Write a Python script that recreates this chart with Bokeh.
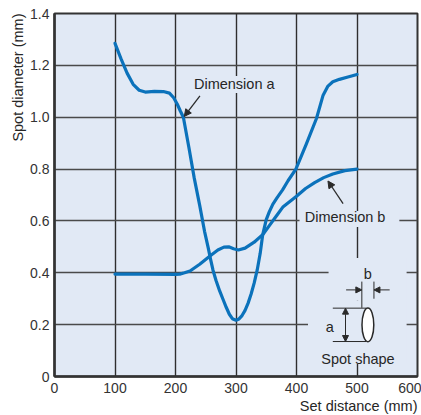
from bokeh.plotting import figure
from bokeh.models import (Range1d, FixedTicker, CustomJSTickFormatter, Label, Arrow,
                          NormalHead, Title)
from bokeh.embed import file_html
from bokeh.resources import INLINE

# ---- data ----
dist_a = [100, 110, 120, 130, 140, 150, 165, 180, 190, 197, 203, 208, 213, 222, 231,
          240, 248, 254, 258, 262, 267, 273, 279, 284, 289, 294, 300, 305, 310, 315, 320,
          325, 330, 335, 340, 344, 350, 355, 361, 368, 377, 386, 399, 416, 433, 444, 452,
          460, 471, 485, 500]
dim_a = [1.285, 1.225, 1.17, 1.127, 1.104, 1.097, 1.100, 1.099, 1.093, 1.075, 1.050,
         1.024, 1.000, 0.885, 0.765, 0.66, 0.56, 0.497, 0.452, 0.41, 0.37, 0.33, 0.295,
         0.266, 0.24, 0.223, 0.217, 0.222, 0.235, 0.255, 0.283, 0.318, 0.36, 0.41, 0.475,
         0.545, 0.605, 0.635, 0.665, 0.69, 0.72, 0.755, 0.80, 0.895, 0.995, 1.085, 1.12,
         1.137, 1.146, 1.155, 1.165]
dist_b = [100, 150, 200, 207, 215, 224, 240, 257, 270, 280, 288, 296, 304, 315, 330, 345,
          356, 367, 378, 400, 415, 430, 445, 460, 480, 500]
dim_b = [0.395, 0.395, 0.394, 0.395, 0.400, 0.407, 0.433, 0.465, 0.488, 0.499, 0.500, 0.493,
         0.488, 0.495, 0.518, 0.549, 0.585, 0.62, 0.655, 0.695, 0.725, 0.748, 0.767, 0.781,
         0.794, 0.80]
x_ticks = [0, 100, 200, 300, 400, 500, 600]
y_ticks = [0, 0.2, 0.4, 0.6, 0.8, 1.0, 1.2, 1.4]

BG = "#e1e9f5"
BLUE = "#0b72bb"
INK = "#2a2a2a"
FONT = "Liberation Sans"

p = figure(width=421, height=415, x_range=Range1d(0, 600), y_range=Range1d(0, 1.4),
           output_backend="svg", toolbar_location=None,
           min_border_left=54, min_border_right=4, min_border_top=13, min_border_bottom=39,
           background_fill_color=BG, border_fill_color="white")
p.outline_line_color = "#333333"
p.outline_line_width = 2

for ax in (p.xaxis[0], p.yaxis[0]):
    ax.axis_line_color = "#333333"
    ax.axis_line_width = 2.5
    ax.major_tick_in = 0
    ax.major_tick_out = 0
    ax.minor_tick_in = 0
    ax.minor_tick_out = 0
    ax.major_label_text_font = FONT
    ax.major_label_text_font_size = "14px"
    ax.major_label_text_color = "#333333"
p.xaxis.ticker = FixedTicker(ticks=x_ticks)
p.yaxis.ticker = FixedTicker(ticks=y_ticks)
p.xaxis.major_label_standoff = 6
p.yaxis.major_label_standoff = 5
p.yaxis.formatter = CustomJSTickFormatter(code="return tick == 0 ? '0' : tick.toFixed(1);")

p.xgrid.grid_line_color = "#2e2e2e"
p.xgrid.grid_line_width = 1.4
p.ygrid.grid_line_color = "#4a4a4a"
p.ygrid.grid_line_width = 1.3

# masks that break the grid behind texts and the inset sketch
p.quad(left=[229, 405, 453, 419], right=[371, 570, 582, 582],
       bottom=[1.093, 0.577, 0.292, 0.049], top=[1.159, 0.638, 0.457, 0.292],
       fill_color=BG, line_color=None)

# curves
p.line(dist_b, dim_b, line_color=BLUE, line_width=3.2, line_cap="round", line_join="round")
p.line(dist_a, dim_a, line_color=BLUE, line_width=3.2, line_cap="round", line_join="round")

def txt(x, y, s, align="left", size="14.5px"):
    p.add_layout(Label(x=x, y=y, text=s, text_font=FONT, text_font_size=size,
                       text_color="#262626", text_align=align, text_baseline="middle"))

txt(230.5, 1.127, "Dimension a")
txt(413.7, 0.617, "Dimension b")
txt(501.6, 0.067, "Spot shape", align="center")
txt(455, 0.19, "a", align="center")
txt(518, 0.397, "b", align="center")

p.add_layout(Arrow(x_start=240.4, y_start=1.082, x_end=214.5, y_end=1.003,
                   line_color=INK, line_width=1.3,
                   end=NormalHead(size=7, fill_color=INK, line_color=INK)))
p.add_layout(Arrow(x_start=477, y_start=0.667, x_end=452, y_end=0.754,
                   line_color=INK, line_width=1.3,
                   end=NormalHead(size=7, fill_color=INK, line_color=INK)))

# spot shape sketch
p.segment(x0=[460, 460, 508, 528], y0=[0.2636, 0.1349, 0.366, 0.366],
          x1=[515, 515, 508, 528], y1=[0.2636, 0.1349, 0.265, 0.30],
          line_color=INK, line_width=1)
p.add_layout(Arrow(x_start=481, y_start=0.2636, x_end=481, y_end=0.1349,
                   line_color=INK, line_width=1,
                   start=NormalHead(size=6, fill_color=INK, line_color=INK),
                   end=NormalHead(size=6, fill_color=INK, line_color=INK)))
p.add_layout(Arrow(x_start=482, y_start=0.334, x_end=508, y_end=0.334,
                   line_color=INK, line_width=1,
                   end=NormalHead(size=6, fill_color=INK, line_color=INK)))
p.add_layout(Arrow(x_start=554, y_start=0.334, x_end=528, y_end=0.334,
                   line_color=INK, line_width=1,
                   end=NormalHead(size=6, fill_color=INK, line_color=INK)))
p.ellipse(x=[518], y=[0.199], width=[19.5], height=[0.13], fill_color="white",
          line_color=INK, line_width=1.5)

# axis titles
p.add_layout(Title(text="Set distance (mm)", align="right", text_font=FONT,
                   text_font_size="14.5px", text_font_style="normal", text_color="#262626",
                   standoff=1, offset=0), "below")
p.add_layout(Title(text="Spot diameter (mm)", align="right", text_font=FONT,
                   text_font_size="14.5px", text_font_style="normal", text_color="#262626",
                   standoff=4, offset=0), "left")

open("out.html", "w").write(file_html(p, INLINE))
